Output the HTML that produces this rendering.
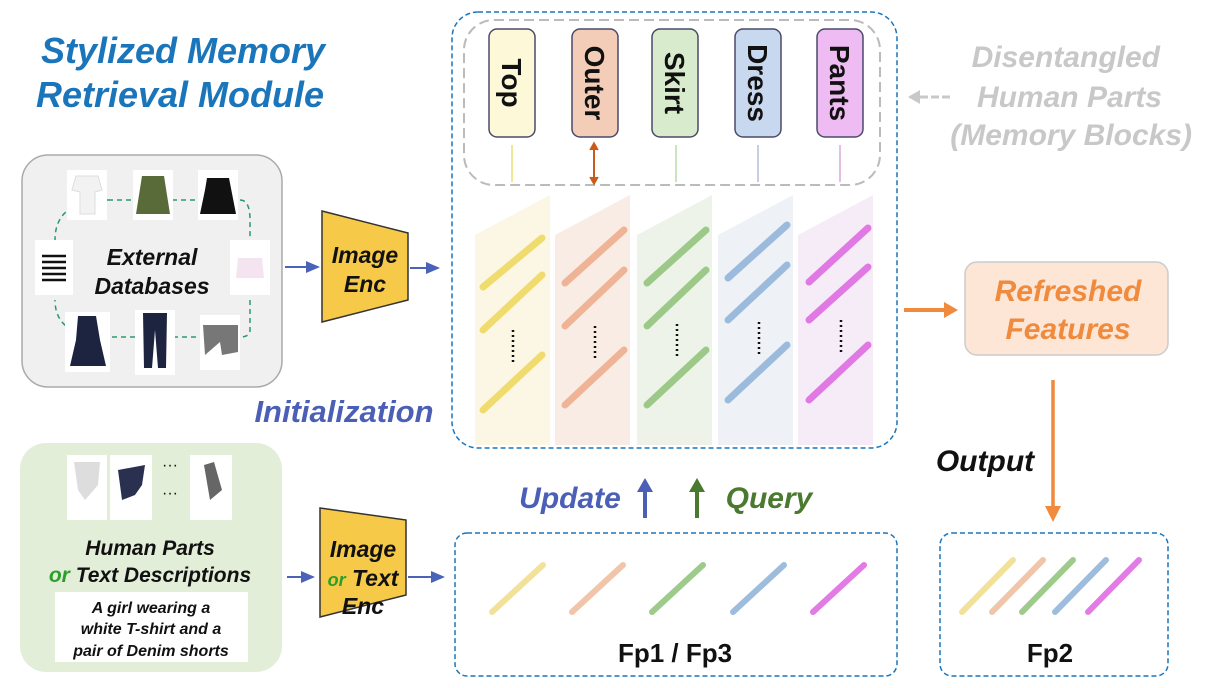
<!DOCTYPE html>
<html><head><meta charset="utf-8"><style>
html,body{margin:0;padding:0;background:#fff;}
svg{display:block;font-family:"Liberation Sans",sans-serif;}
.t{font-weight:bold;font-style:italic;}
</style></head><body>
<svg width="1206" height="688" viewBox="0 0 1206 688" xmlns="http://www.w3.org/2000/svg">
<defs>
<marker id="ab" markerWidth="8" markerHeight="8" refX="6" refY="4" orient="auto"><path d="M0,1 L7,4 L0,7 z" fill="#4a62b8"/></marker>
</defs>

<!-- Title -->
<text x="183" y="63" text-anchor="middle" class="t" font-size="36" fill="#1a75bb">Stylized Memory</text>
<text x="180" y="107" text-anchor="middle" class="t" font-size="36" fill="#1a75bb">Retrieval Module</text>

<!-- External DB box -->
<rect x="22" y="155" width="260" height="232" rx="26" fill="#f0f0f0" stroke="#aaa" stroke-width="1.5"/>
<path d="M108,200 Q55,200 55,240 M108,200 L132,200 M172,200 L200,200 M240,200 Q250,200 250,220 L250,240 M250,300 L250,330 Q250,337 240,337 M205,337 L175,337 M135,337 L108,337 Q55,337 55,300" fill="none" stroke="#2a9a6a" stroke-width="1.5" stroke-dasharray="5,4"/>
<rect x="67" y="170" width="40" height="50" fill="#fff"/><path d="M76,176 L98,176 L102,190 L95,192 L95,214 L80,214 L80,192 L72,190 z" fill="#f2f2f2" stroke="#ddd"/>
<rect x="133" y="170" width="40" height="50" fill="#fff"/><path d="M142,176 L164,176 L170,214 L136,214 z" fill="#5a6b3a"/>
<rect x="198" y="170" width="40" height="50" fill="#fff"/><path d="M207,178 L229,178 L236,214 L200,214 L205,190 z" fill="#111"/>
<rect x="35" y="240" width="38" height="55" fill="#fff"/>
<g stroke="#111" stroke-width="2.5"><line x1="42" x2="66" y1="256" y2="256"/><line x1="42" x2="66" y1="262" y2="262"/><line x1="42" x2="66" y1="268" y2="268"/><line x1="42" x2="66" y1="274" y2="274"/><line x1="42" x2="66" y1="280" y2="280"/></g>
<rect x="230" y="240" width="40" height="55" fill="#fff"/><path d="M238,258 L262,258 L264,278 L236,278 z" fill="#f3e4ef"/>
<rect x="65" y="312" width="45" height="60" fill="#fff"/><path d="M78,316 L96,316 L100,340 L106,366 L70,366 L76,340 z" fill="#1c2440"/>
<rect x="135" y="310" width="40" height="65" fill="#fff"/><path d="M143,313 L167,313 L166,368 L158,368 L155,330 L152,368 L144,368 z" fill="#1c2440"/>
<rect x="200" y="315" width="40" height="55" fill="#fff"/><path d="M203,325 L238,325 L238,352 L222,355 L220,342 L205,355 z" fill="#777"/>
<text x="152" y="265" text-anchor="middle" class="t" font-size="23" fill="#111">External</text>
<text x="152" y="294" text-anchor="middle" class="t" font-size="23" fill="#111">Databases</text>

<!-- arrows + encoder 1 -->
<line x1="285" y1="267" x2="318" y2="267" stroke="#4a62b8" stroke-width="2" marker-end="url(#ab)"/>
<path d="M322,211 L408,233 L408,300 L322,322 z" fill="#f7c948" stroke="#333" stroke-width="1.5"/>
<text x="365" y="263" text-anchor="middle" class="t" font-size="23" fill="#111">Image</text>
<text x="365" y="292" text-anchor="middle" class="t" font-size="23" fill="#111">Enc</text>
<line x1="410" y1="268" x2="438" y2="268" stroke="#4a62b8" stroke-width="2" marker-end="url(#ab)"/>

<text x="344" y="422" text-anchor="middle" class="t" font-size="31" fill="#4a5fb5">Initialization</text>

<!-- main memory box -->
<rect x="452" y="12" width="445" height="436" rx="26" fill="#fff" stroke="#1a75bb" stroke-width="1.5" stroke-dasharray="5,3"/>
<rect x="464" y="20" width="416" height="165" rx="30" fill="none" stroke="#bbb" stroke-width="2" stroke-dasharray="10,5"/>

<g font-size="28" font-weight="bold" fill="#111">
<rect x="489" y="29" width="46" height="108" rx="8" fill="#fdf8d8" stroke="#4a4a6a" stroke-width="1.5"/>
<text transform="translate(502,83) rotate(90)" text-anchor="middle">Top</text>
<rect x="572" y="29" width="46" height="108" rx="8" fill="#f3cdb8" stroke="#4a4a6a" stroke-width="1.5"/>
<text transform="translate(585,83) rotate(90)" text-anchor="middle">Outer</text>
<rect x="652" y="29" width="46" height="108" rx="8" fill="#d8ebcc" stroke="#4a4a6a" stroke-width="1.5"/>
<text transform="translate(665,83) rotate(90)" text-anchor="middle">Skirt</text>
<rect x="735" y="29" width="46" height="108" rx="8" fill="#c8d8ee" stroke="#4a4a6a" stroke-width="1.5"/>
<text transform="translate(748,83) rotate(90)" text-anchor="middle">Dress</text>
<rect x="817" y="29" width="46" height="108" rx="8" fill="#eebcf2" stroke="#4a4a6a" stroke-width="1.5"/>
<text transform="translate(830,83) rotate(90)" text-anchor="middle">Pants</text>
</g>
<g stroke-width="1.5">
<line x1="512" y1="145" x2="512" y2="182" stroke="#e8e070"/>
<line x1="594" y1="145" x2="594" y2="182" stroke="#c85a1a" stroke-width="2"/>
<path d="M590,150 L594,143 L598,150 M590,177 L594,184 L598,177" fill="#c85a1a" stroke="#c85a1a"/>
<line x1="676" y1="145" x2="676" y2="182" stroke="#b8dca8"/>
<line x1="758" y1="145" x2="758" y2="182" stroke="#b0c0d8"/>
<line x1="840" y1="145" x2="840" y2="182" stroke="#d8a8d8"/>
</g>

<!-- columns -->
<g>
<path d="M475,235 L550,195 L550,445 L475,445 z" fill="#fbf7e4"/>
<path d="M555,235 L630,195 L630,445 L555,445 z" fill="#f8ece4"/>
<path d="M637,235 L712,195 L712,445 L637,445 z" fill="#eef3ea"/>
<path d="M718,235 L793,195 L793,445 L718,445 z" fill="#eef1f6"/>
<path d="M798,235 L873,195 L873,445 L798,445 z" fill="#f6ecf8"/>
</g>
<g stroke-linecap="round" stroke-width="7" opacity="0.85">
<g stroke="#efd85a"><line x1="483" y1="287" x2="542" y2="238"/><line x1="483" y1="330" x2="542" y2="275"/><line x1="483" y1="410" x2="542" y2="355"/></g>
<g stroke="#eeaa88"><line x1="565" y1="283" x2="624" y2="230"/><line x1="565" y1="326" x2="624" y2="270"/><line x1="565" y1="405" x2="624" y2="350"/></g>
<g stroke="#8ec278"><line x1="647" y1="283" x2="706" y2="230"/><line x1="647" y1="326" x2="706" y2="270"/><line x1="647" y1="405" x2="706" y2="350"/></g>
<g stroke="#8eb2d8"><line x1="728" y1="278" x2="787" y2="225"/><line x1="728" y1="320" x2="787" y2="265"/><line x1="728" y1="400" x2="787" y2="345"/></g>
<g stroke="#dd66e0"><line x1="809" y1="282" x2="868" y2="228"/><line x1="809" y1="320" x2="868" y2="267"/><line x1="809" y1="400" x2="868" y2="345"/></g>
</g>
<g stroke="#111" stroke-width="2.5" stroke-dasharray="2,3">
<line x1="513" y1="330" x2="513" y2="362"/><line x1="595" y1="326" x2="595" y2="358"/><line x1="677" y1="324" x2="677" y2="356"/><line x1="759" y1="322" x2="759" y2="354"/><line x1="841" y1="320" x2="841" y2="352"/>
</g>

<!-- disentangled -->
<line x1="950" y1="97" x2="910" y2="97" stroke="#c8c8c8" stroke-width="3" stroke-dasharray="8,3"/>
<path d="M908,97 L920,90 L920,104 z" fill="#c8c8c8"/>
<g class="t" font-size="30" fill="#c8c8c8" text-anchor="end">
<text x="1160" y="67">Disentangled</text>
<text x="1162" y="107">Human Parts</text>
<text x="1192" y="145">(Memory Blocks)</text>
</g>

<!-- refreshed -->
<line x1="904" y1="310" x2="948" y2="310" stroke="#f08a3c" stroke-width="4"/>
<path d="M958,310 L944,302 L944,318 z" fill="#f08a3c"/>
<rect x="965" y="262" width="203" height="93" rx="12" fill="#fde6d6" stroke="#ccc" stroke-width="1.5"/>
<text x="1068" y="301" text-anchor="middle" class="t" font-size="30" fill="#f08a3c">Refreshed</text>
<text x="1068" y="339" text-anchor="middle" class="t" font-size="30" fill="#f08a3c">Features</text>
<line x1="1053" y1="380" x2="1053" y2="508" stroke="#f08a3c" stroke-width="3.5"/>
<path d="M1053,522 L1045,506 L1061,506 z" fill="#f08a3c"/>
<text x="985" y="471" text-anchor="middle" class="t" font-size="30" fill="#111">Output</text>

<!-- update / query -->
<text x="570" y="508" text-anchor="middle" class="t" font-size="30" fill="#4a5fb5">Update</text>
<line x1="645" y1="518" x2="645" y2="490" stroke="#4a5fb5" stroke-width="4"/>
<path d="M645,478 L637,492 L653,492 z" fill="#4a5fb5"/>
<line x1="697" y1="518" x2="697" y2="490" stroke="#4a7a30" stroke-width="4"/>
<path d="M697,478 L689,492 L705,492 z" fill="#4a7a30"/>
<text x="769" y="508" text-anchor="middle" class="t" font-size="30" fill="#4a7a30">Query</text>

<!-- Fp1/Fp3 -->
<rect x="455" y="533" width="442" height="143" rx="12" fill="#fff" stroke="#1a75bb" stroke-width="1.5" stroke-dasharray="5,3"/>
<g stroke-linecap="round" stroke-width="6" opacity="0.85">
<line x1="492" y1="612" x2="543" y2="565" stroke="#f0dd88"/>
<line x1="572" y1="612" x2="623" y2="565" stroke="#eebc9c"/>
<line x1="652" y1="612" x2="703" y2="565" stroke="#8ec278"/>
<line x1="733" y1="612" x2="784" y2="565" stroke="#8eb2d8"/>
<line x1="813" y1="612" x2="864" y2="565" stroke="#dd66e0"/>
</g>
<text x="675" y="662" text-anchor="middle" font-weight="bold" font-size="26" fill="#111">Fp1 / Fp3</text>

<!-- Fp2 -->
<rect x="940" y="533" width="228" height="143" rx="12" fill="#fff" stroke="#1a75bb" stroke-width="1.5" stroke-dasharray="5,3"/>
<g stroke-linecap="round" stroke-width="6" opacity="0.85">
<line x1="962" y1="612" x2="1013" y2="560" stroke="#f0dd88"/>
<line x1="992" y1="612" x2="1043" y2="560" stroke="#eebc9c"/>
<line x1="1022" y1="612" x2="1073" y2="560" stroke="#8ec278"/>
<line x1="1055" y1="612" x2="1106" y2="560" stroke="#8eb2d8"/>
<line x1="1088" y1="612" x2="1139" y2="560" stroke="#dd66e0"/>
</g>
<text x="1050" y="662" text-anchor="middle" font-weight="bold" font-size="26" fill="#111">Fp2</text>

<!-- bottom-left box -->
<rect x="20" y="443" width="262" height="229" rx="26" fill="#e3eed9"/>
<rect x="67" y="455" width="40" height="65" fill="#fff"/><path d="M74,462 L100,462 L98,485 L85,500 L78,490 z" fill="#ddd"/>
<rect x="110" y="455" width="42" height="65" fill="#fff"/><path d="M118,470 L145,465 L142,485 L135,495 L122,500 z" fill="#2a3050"/>
<text x="170" y="470" text-anchor="middle" font-size="16" fill="#111">···</text>
<text x="170" y="498" text-anchor="middle" font-size="16" fill="#111">···</text>
<rect x="190" y="455" width="42" height="65" fill="#fff"/><path d="M204,465 L214,462 L222,490 L210,500 z" fill="#666"/>
<text x="150" y="555" text-anchor="middle" class="t" font-size="21" fill="#111">Human Parts</text>
<text x="150" y="582" text-anchor="middle" class="t" font-size="21" fill="#111"><tspan fill="#2aa02a">or</tspan> Text Descriptions</text>
<rect x="55" y="592" width="193" height="70" fill="#fff"/>
<g class="t" font-size="16" fill="#111" text-anchor="middle">
<text x="151" y="613">A girl wearing a</text>
<text x="151" y="634">white T-shirt and a</text>
<text x="151" y="656">pair of Denim shorts</text>
</g>

<line x1="287" y1="577" x2="313" y2="577" stroke="#4a62b8" stroke-width="2" marker-end="url(#ab)"/>
<path d="M320,508 L406,520 L406,595 L320,617 z" fill="#f7c948" stroke="#333" stroke-width="1.5"/>
<g class="t" font-size="23" fill="#111" text-anchor="middle">
<text x="363" y="557">Image</text>
<text x="363" y="586"><tspan fill="#2aa02a" font-size="18">or</tspan> Text</text>
<text x="363" y="614">Enc</text>
</g>
<line x1="408" y1="577" x2="443" y2="577" stroke="#4a62b8" stroke-width="2" marker-end="url(#ab)"/>
</svg>
</body></html>
